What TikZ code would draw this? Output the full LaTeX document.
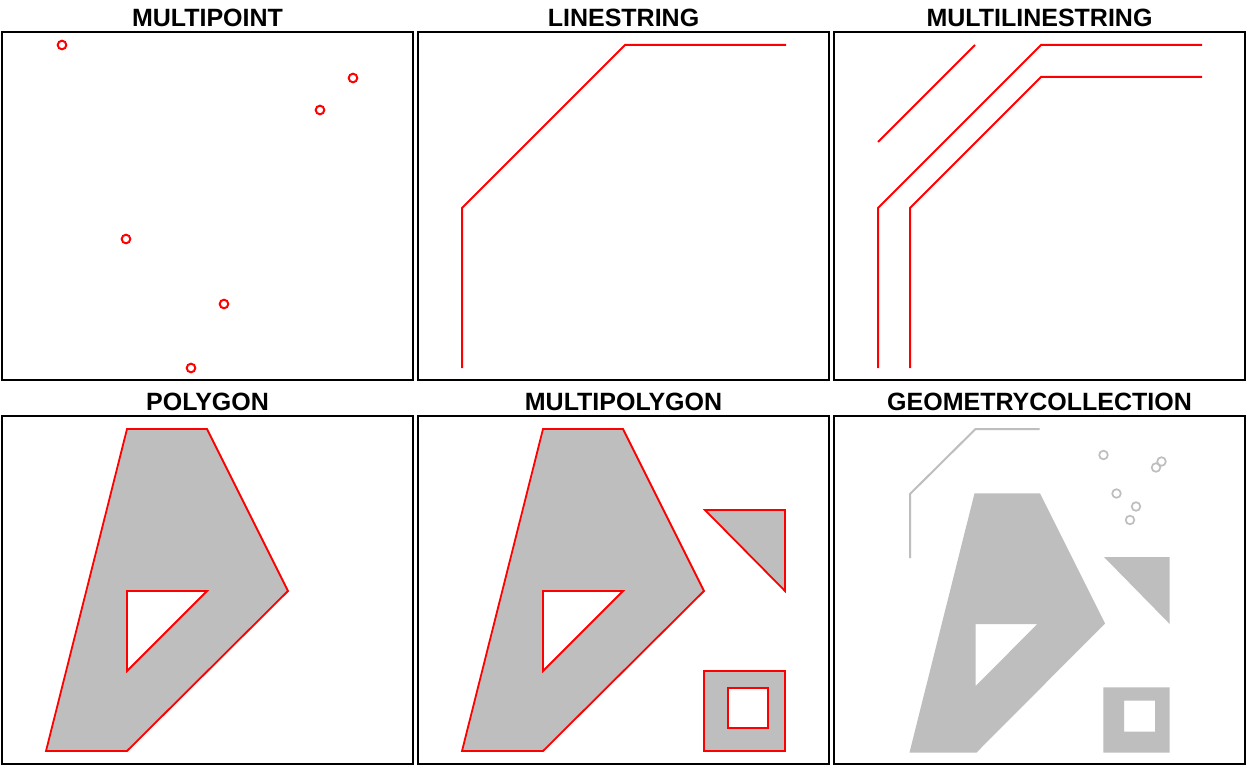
\documentclass[tikz,border=0pt]{standalone}
\usepackage{fontspec}
\setmainfont{Liberation Sans}
\definecolor{geomred}{RGB}{255,0,0}
\definecolor{geomgray}{RGB}{190,190,190}
\begin{document}
\begin{tikzpicture}[x=1pt,y=-1pt,
  panel/.style={draw=black,line width=2pt},
  ttl/.style={anchor=base,inner sep=0pt,font=\fontsize{25}{25}\selectfont\bfseries},
  redline/.style={draw=geomred,line width=2pt,line join=miter},
  redpt/.style={draw=geomred,line width=2pt},
  redpoly/.style={draw=geomred,line width=1.8pt,fill=geomgray,even odd rule,line join=miter},
  grayline/.style={draw=geomgray,line width=2pt},
  graypt/.style={draw=geomgray,line width=1.7pt},
  graypoly/.style={fill=geomgray,even odd rule}]
\useasboundingbox (0,0) rectangle (1248,768);
\fill[white] (0,0) rectangle (1248,768);
% titles
\node[ttl] (t1) at (207.5,26.5) {MULTIPOINT};
\node[ttl] (t2) at (623.5,26.5) {LINESTRING};
\node[ttl] (t3) at (1039.5,26.5) {MULTILINESTRING};
\node[ttl] (t4) at (207.5,410) {POLYGON};
\node[ttl] (t5) at (623.5,410) {MULTIPOLYGON};
\node[ttl] (t6) at (1039.5,410) {GEOMETRYCOLLECTION};
% panels
\draw[panel] (2,32) rectangle (413,380);
\draw[panel] (418,32) rectangle (829,380);
\draw[panel] (834,32) rectangle (1245,380);
\draw[panel] (2,416) rectangle (413,764);
\draw[panel] (418,416) rectangle (829,764);
\draw[panel] (834,416) rectangle (1245,764);
% MULTIPOINT
\foreach \p in {(62,45),(353,78),(320,110),(126,239),(224,304),(191,368)}
  \draw[redpt] \p circle (4.3);
% LINESTRING
\draw[redline] (462,368) -- (462,208) -- (543,127) -- (625,45) -- (786,45);
% MULTILINESTRING
\draw[redline] (878,368) -- (878,208) -- (959,127) -- (1041,45) -- (1202,45);
\draw[redline] (910,368) -- (910,208) -- (1041,77) -- (1202,77);
\draw[redline] (878,142) -- (975,45);
% POLYGON
\path[redpoly] (46,751) -- (127,751) -- (288,591) -- (207,429) -- (127,429) -- cycle
  (127,591) -- (127,671) -- (207,591) -- cycle;
% MULTIPOLYGON
\path[redpoly] (462,751) -- (543,751) -- (704,591) -- (623,429) -- (543,429) -- cycle
  (543,591) -- (543,671) -- (623,591) -- cycle;
\path[redpoly] (705,510) -- (785,510) -- (785,591) -- cycle;
\path[redpoly] (704,671) rectangle (785,751) (728,688) rectangle (768,728);
% GEOMETRYCOLLECTION
\draw[grayline] (910,558) -- (910,494) -- (975.5,429) -- (1039.5,429);
\foreach \p in {(1103.5,455),(1156,467.5),(1161.5,461.5),(1116.5,493.5),(1136,506.5),(1130,520)}
  \draw[graypt] \p circle (4.3);
\path[graypoly] (909.5,752.5) -- (976.5,752.5) -- (1105,623.5) -- (1040,493.3) -- (974.5,493.3) -- cycle
  (975.7,624) -- (975.7,686) -- (1037.3,624) -- cycle;
\path[graypoly] (1104,557) -- (1169.7,557) -- (1169.7,624) -- cycle;
\path[graypoly] (1103.3,687.3) rectangle (1169.7,752.7) (1124,700.7) rectangle (1155,731.7);
\end{tikzpicture}
\end{document}
